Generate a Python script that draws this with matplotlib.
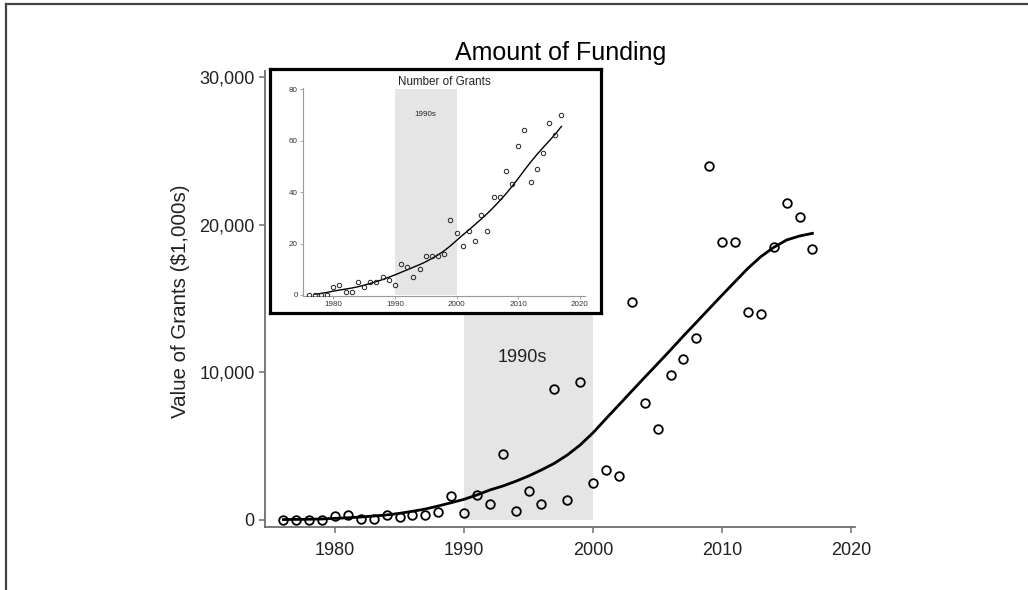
import matplotlib
matplotlib.use("Agg")
import matplotlib.pyplot as plt
from matplotlib.lines import Line2D
from matplotlib.ticker import FuncFormatter

plt.rcParams["font.family"] = ["Liberation Sans", "DejaVu Sans"]

# Funding per year (main panel)
years = list(range(1976, 2018))
funding = [0, 0, 0, 0, 270, 360, 50, 50, 320, 180,
           320, 360, 560, 1650, 450, 1700, 1100, 4470, 630, 1980,
           1060, 8870, 1330, 9340, 2530, 3390, 2980, 14730, 7920, 6140,
           9820, 10900, 12320, 23990, 18840, 18840, 14080, 13930, 18460, 21440,
           20540, 18370]
funding_fit = [30, 40, 50, 70, 110, 150, 200, 270, 340, 450,
               590, 740, 950, 1170, 1400, 1700, 2030, 2300, 2620, 2980,
               3390, 3840, 4400, 5080, 5910, 6860, 7790, 8730, 9660, 10580,
               11510, 12460, 13380, 14310, 15230, 16140, 17040, 17830, 18460, 18960,
               19230, 19410]

# Number of grants per year (inset)
grants = [0, 0, 0, 0, 3, 4, 1, 1, 5, 3,
          5, 5, 7, 6, 4, 12, 11, 7, 10, 15,
          15, 15, 16, 29, 24, 19, 25, 21, 31, 25,
          38, 38, 48, 43, 58, 64, 44, 49, 55, 67,
          62, 70]
fit_years = list(range(1977, 2018))
grants_fit = [0.3, 0.6, 1.0, 1.5, 1.9, 2.3, 2.7, 3.2, 3.8, 4.5,
              5.2, 6.0, 6.9, 7.8, 8.8, 9.8, 10.8, 11.8, 12.9, 14.2,
              15.6, 17.2, 19.1, 21.2, 23.3, 25.3, 27.4, 29.5, 31.7, 34.1,
              36.6, 39.3, 42.2, 45.3, 48.5, 51.6, 54.5, 57.2, 59.8, 62.5,
              65.5]

decade = [1990, 2000]
decade_label = "1990s"
x_ticks = [1980, 1990, 2000, 2010, 2020]
main_y_ticks = [0, 10000, 20000, 30000]
inset_y_ticks = [0, 20, 40, 60, 80]

band_color = "#e5e5e5"
spine_color = "#6e6e6e"
text_color = "#222222"

fig = plt.figure(figsize=(10.28, 5.90), dpi=100)

# Main panel
ax = fig.add_axes([0.2578, 0.1068, 0.5739, 0.7729])
ax.fill_between(decade, 0, 30000, color=band_color, lw=0, zorder=0)
ax.plot(years, funding_fit, color="black", lw=2.0, zorder=2)
ax.plot(years, funding, "o", ms=6.2, mfc="none", mec="black", mew=1.3, zorder=3)
ax.text(1994.5, 10970, decade_label, ha="center", va="center", fontsize=13, color=text_color)
ax.set_xlim(1974.57, 2020.3)
ax.set_ylim(-474, 30406)
ax.set_xticks(x_ticks)
ax.set_yticks(main_y_ticks)
ax.yaxis.set_major_formatter(FuncFormatter(lambda v, p: f"{int(v):,}"))
for s in ["top", "right"]:
    ax.spines[s].set_visible(False)
for s in ["left", "bottom"]:
    ax.spines[s].set_color(spine_color)
    ax.spines[s].set_linewidth(1.3)
ax.tick_params(axis="both", colors=spine_color, labelcolor=text_color, labelsize=13,
               length=4.5, width=1.1)
ax.tick_params(axis="x", pad=6)
ax.tick_params(axis="y", pad=3)

fig.text(561 / 1028, 1 - 60 / 590, "Amount of Funding", ha="center", va="baseline",
         fontsize=18, color="black")
fig.text(181 / 1028, 1 - 301 / 590, "Value of Grants ($1,000s)", rotation=90,
         ha="center", va="center", fontsize=14.8, color=text_color)

# Inset frame
frame = fig.add_axes([0.2626, 0.4695, 0.322, 0.4136])
frame.set_xticks([])
frame.set_yticks([])
frame.set_facecolor("white")
for s in frame.spines.values():
    s.set_color("black")
    s.set_linewidth(2.3)

# Inset panel
ins = fig.add_axes([0.2945, 0.4983, 0.2750, 0.3520])
ins.patch.set_alpha(0)
ins.fill_between(decade, 0, 80, color=band_color, lw=0, zorder=0)
ins.plot(fit_years, grants_fit, color="black", lw=1.0, zorder=2)
ins.plot(years, grants, "o", ms=3.2, mfc="none", mec="#222222", mew=0.7, zorder=3)
ins.text(1995, 70, decade_label, ha="center", va="center", fontsize=5.8, color=text_color)
ins.set_xlim(1975.04, 2020.9)
ins.set_ylim(-0.4, 80.3)
ins.set_xticks(x_ticks)
ins.set_yticks(inset_y_ticks)
for s in ["top", "right"]:
    ins.spines[s].set_visible(False)
for s in ["left", "bottom"]:
    ins.spines[s].set_color("#999999")
    ins.spines[s].set_linewidth(0.8)
ins.tick_params(axis="both", colors="#999999", labelcolor="#333333", labelsize=5.8,
                length=2, width=0.6, pad=1.5)
ins.set_title("Number of Grants", fontsize=8.4, pad=2, color=text_color)

# Outer border along the top and left edges
fig.add_artist(Line2D([5.5 / 1028, 5.5 / 1028], [0, 1 - 3.5 / 590],
                      transform=fig.transFigure, color="#444444", lw=1.6))
fig.add_artist(Line2D([5.5 / 1028, 1], [1 - 3.5 / 590, 1 - 3.5 / 590],
                      transform=fig.transFigure, color="#444444", lw=1.6))

fig.savefig("out.png", dpi=100)
